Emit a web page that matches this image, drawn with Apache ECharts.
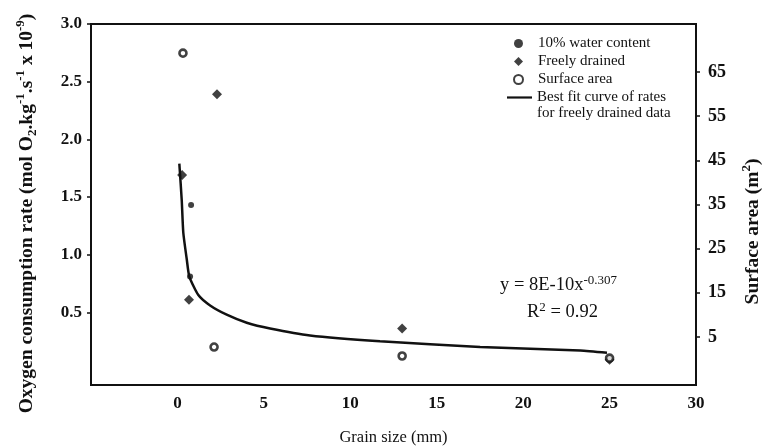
<!DOCTYPE html>
<html>
<head>
<meta charset="utf-8">
<script src="https://cdn.jsdelivr.net/npm/echarts@6/dist/echarts.min.js"></script>
<style>html,body{margin:0;padding:0;background:#fff}#c{width:765px;height:448px}</style>
</head>
<body>
<div id="c"></div>
<script>
// Data
var waterX = [0.79, 0.73];
var waterY = [1.43, 0.81];
var drainedX = [0.27, 2.29, 0.67, 13.0, 25.0];
var drainedY = [1.69, 2.39, 0.61, 0.36, 0.09];
var surfaceX = [0.32, 2.12, 13.0, 25.0];
var surfaceY = [69.3, 2.7, 0.67, 0.2];
var fitX = [0.11, 0.25, 0.34, 0.54, 0.69, 1.21, 1.89, 2.85, 4.01, 5.36, 7.67, 11.72, 17.51, 23.3, 24.85];
var fitY = [1.79, 1.47, 1.19, 0.96, 0.81, 0.65, 0.56, 0.48, 0.41, 0.36, 0.30, 0.25, 0.20, 0.17, 0.15];
var xTicks = [0, 5, 10, 15, 20, 25, 30];
var leftTicks = [0.5, 1.0, 1.5, 2.0, 2.5, 3.0];
var rightTicks = [5, 15, 25, 35, 45, 55, 65];

function pairs(xs, ys) { return xs.map(function (x, i) { return [x, ys[i]]; }); }

var serif = 'Liberation Serif';
var fitName = 'Best fit curve of rates for freely drained data';
var legendText = {fontFamily: serif, fontSize: 15, color: '#111', lineHeight: 15};
var chart = echarts.init(document.getElementById('c'), null, {renderer: 'canvas'});
chart.setOption({
  animation: false,
  backgroundColor: '#fff',
  grid: {left: 91, right: 69, top: 24, bottom: 63, containLabel: false, outerBoundsMode: 'none',
    show: true, borderColor: '#111', borderWidth: 2},
  legend: [{
    orient: 'vertical', left: 508, top: 31,
    itemWidth: 9, itemHeight: 9, itemGap: 3,
    textStyle: Object.assign({padding: [0, 0, 0, 10]}, legendText),
    data: [
      {name: '10% water content', icon: 'circle'},
      {name: 'Freely drained', icon: 'diamond'},
      {name: 'Surface area', icon: 'circle'}
    ]
  }, {
    orient: 'vertical', left: 502, top: 85,
    itemWidth: 25, itemHeight: 8,
    textStyle: legendText,
    formatter: function () { return 'Best fit curve of rates'; },
    data: [{name: fitName, icon: 'path://M0,0H25V2.2H0Z'}]
  }],
  xAxis: {
    type: 'value', min: -5, max: 30,
    name: 'Grain size (mm)', nameLocation: 'middle', nameGap: 44,
    nameTextStyle: {fontFamily: serif, fontSize: 16.5, color: '#111'},
    axisLine: {show: true, onZero: false, lineStyle: {color: '#111', width: 2}},
    axisTick: {show: false},
    splitLine: {show: false},
    axisLabel: {customValues: xTicks, fontFamily: serif, fontSize: 17, fontWeight: 'bold', color: '#111', margin: 10}
  },
  yAxis: [{
    type: 'value', min: -0.13, max: 3.0, position: 'left',
    name: 'Oxygen consumption rate (mol O{sub|2}.kg{sup|-1}.s{sup|-1} x 10{sup|-9})',
    nameLocation: 'middle', nameGap: 52, nameRotate: 90,
    nameTextStyle: {fontFamily: serif, fontSize: 19.5, fontWeight: 'bold', color: '#111', padding: [0, 18, 0, 0],
      rich: {
        sup: {fontFamily: serif, fontSize: 13, fontWeight: 'bold', color: '#111', verticalAlign: 'top', lineHeight: 25},
        sub: {fontFamily: serif, fontSize: 13, fontWeight: 'bold', color: '#111', verticalAlign: 'bottom', lineHeight: 17}
      }},
    axisLine: {show: true, onZero: false, lineStyle: {color: '#111', width: 2}},
    axisTick: {show: true, customValues: leftTicks, length: 4, lineStyle: {color: '#111', width: 1.5}},
    splitLine: {show: false},
    axisLabel: {customValues: leftTicks, fontFamily: serif, fontSize: 17, fontWeight: 'bold', color: '#111', margin: 9,
      formatter: function (v) { return v.toFixed(1); }}
  }, {
    type: 'value', min: -5.9, max: 75.9, position: 'right',
    name: 'Surface area (m{sup|2})', nameLocation: 'middle', nameGap: 44, nameRotate: 90,
    nameTextStyle: {fontFamily: serif, fontSize: 19.5, fontWeight: 'bold', color: '#111', padding: [0, 54, 0, 0],
      rich: {sup: {fontFamily: serif, fontSize: 13, fontWeight: 'bold', color: '#111', verticalAlign: 'top', lineHeight: 26}}},
    axisLine: {show: true, onZero: false, lineStyle: {color: '#111', width: 2}},
    axisTick: {show: true, customValues: rightTicks, length: 4, lineStyle: {color: '#111', width: 1.5}},
    splitLine: {show: false},
    axisLabel: {customValues: rightTicks, fontFamily: serif, fontSize: 18, fontWeight: 'bold', color: '#111', margin: 12}
  }],
  series: [{
    name: '10% water content', type: 'scatter', symbol: 'circle', symbolSize: 6,
    itemStyle: {color: '#111'}, data: pairs(waterX, waterY), z: 5
  }, {
    name: 'Freely drained', type: 'scatter', symbol: 'diamond', symbolSize: 10,
    itemStyle: {color: '#111'}, data: pairs(drainedX, drainedY), z: 5
  }, {
    name: 'Surface area', type: 'scatter', symbol: 'circle', symbolSize: 7, yAxisIndex: 1,
    itemStyle: {color: '#fff', borderColor: '#111', borderWidth: 2.6}, data: pairs(surfaceX, surfaceY), z: 5
  }, {
    name: fitName, type: 'line', symbol: 'none', smooth: 0.2,
    lineStyle: {color: '#111', width: 2.5}, itemStyle: {color: '#111'}, data: pairs(fitX, fitY), z: 4
  }],
  graphic: [{
    type: 'text', left: 537, top: 106,
    style: {text: 'for freely drained data', fontFamily: serif, fontSize: 15, fill: '#111'}
  }, {
    type: 'text', left: 500, top: 274,
    style: {text: 'y = 8E-10x{sup|-0.307}', fontFamily: serif, fontSize: 18.5, fill: '#111',
      rich: {sup: {fontFamily: serif, fontSize: 13, fill: '#111', verticalAlign: 'top', lineHeight: 22}}}
  }, {
    type: 'text', left: 527, top: 301,
    style: {text: 'R{sup|2} = 0.92', fontFamily: serif, fontSize: 18.5, fill: '#111',
      rich: {sup: {fontFamily: serif, fontSize: 13, fill: '#111', verticalAlign: 'top', lineHeight: 22}}}
  }]
});
</script>
</body>
</html>
